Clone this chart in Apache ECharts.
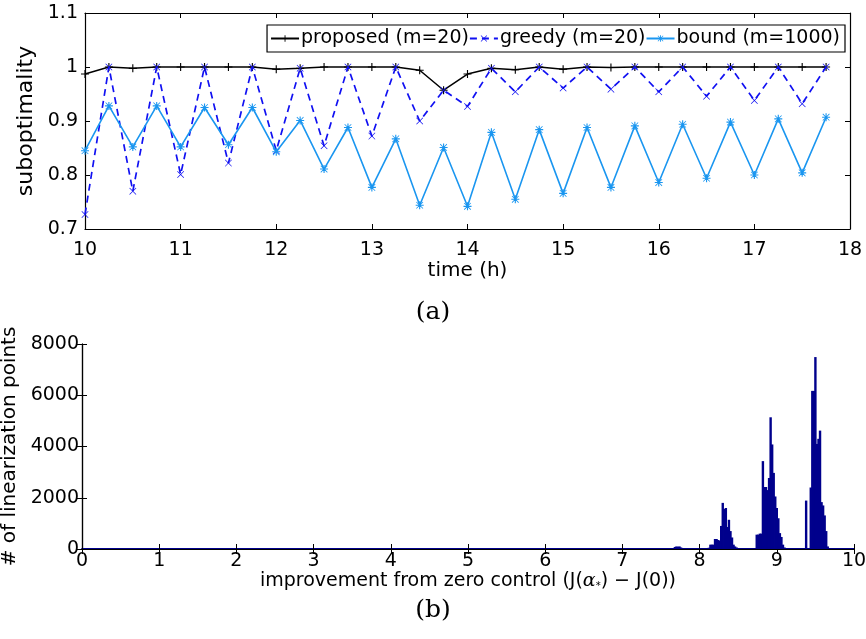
<!DOCTYPE html>
<html>
<head>
<meta charset="utf-8">
<script src="https://cdn.jsdelivr.net/npm/echarts@6/dist/echarts.min.js"></script>
<style>html,body{margin:0;padding:0;background:#fff}#c{width:866px;height:639px}</style>
</head>
<body>
<div id="c"></div>
<script>
// ---- data: panel (a) ----
const times = [10, 10.25, 10.5, 10.75, 11, 11.25, 11.5, 11.75, 12, 12.25, 12.5, 12.75, 13, 13.25, 13.5, 13.75,
               14, 14.25, 14.5, 14.75, 15, 15.25, 15.5, 15.75, 16, 16.25, 16.5, 16.75, 17, 17.25, 17.5, 17.75];
const proposed = [0.987, 1.0, 0.9975, 1.0, 1.0, 1.0, 1.0, 1.0, 0.996, 0.9975, 1.0, 1.0, 1.0, 1.0, 0.994, 0.957,
                  0.987, 0.9975, 0.995, 1.0, 0.996, 1.0, 0.999, 1.0, 1.0, 1.0, 1.0, 1.0, 1.0, 1.0, 1.0, 1.0];
const greedy = [0.727, 1.0, 0.770, 1.0, 0.801, 1.0, 0.822, 1.0, 0.845, 0.9975, 0.854, 1.0, 0.872, 1.0, 0.900, 0.957,
                0.927, 0.9975, 0.954, 1.0, 0.961, 1.0, 0.959, 1.0, 0.954, 1.0, 0.946, 1.0, 0.938, 1.0, 0.932, 1.0];
const bound = [0.845, 0.928, 0.852, 0.928, 0.852, 0.925, 0.856, 0.925, 0.843, 0.901, 0.811, 0.888, 0.777, 0.867, 0.744, 0.851,
               0.742, 0.879, 0.755, 0.884, 0.766, 0.888, 0.777, 0.891, 0.786, 0.894, 0.794, 0.898, 0.800, 0.904, 0.804, 0.907];
const seriesNames = ['proposed (m=20)', 'greedy (m=20)', 'bound (m=1000)'];
const yTicksA = ['0.7', '0.8', '0.9', '1', '1.1'];

// ---- data: panel (b) histogram ----
const binCenters = [7.66, 7.68, 7.70, 7.72, 7.74, 7.76, 7.78,
  7.84, 7.88, 7.92, 7.96, 8.00, 8.04, 8.08,
  8.12, 8.14, 8.16, 8.18, 8.20, 8.22, 8.24, 8.26, 8.28, 8.30, 8.32, 8.34, 8.36, 8.38, 8.40, 8.42, 8.44, 8.46, 8.48, 8.50,
  8.74, 8.76, 8.78, 8.80, 8.82, 8.84, 8.86, 8.88, 8.90, 8.92, 8.94, 8.96, 8.98, 9.00, 9.02, 9.04, 9.06, 9.08, 9.10,
  9.38, 9.44, 9.46, 9.48, 9.50, 9.52, 9.54, 9.56, 9.58, 9.60, 9.62, 9.64, 9.66];
const binCounts = [40, 80, 100, 90, 100, 60, 30,
  20, 25, 20, 30, 20, 30, 30,
  50, 170, 170, 170, 390, 390, 350, 330, 900, 1800, 1560, 1600, 860, 1140, 700, 450, 170, 100, 60, 20,
  560, 560, 600, 600, 3430, 2420, 2420, 2300, 2770, 5140, 4080, 2970, 2050, 1600, 1200, 620, 470, 170, 60,
  1890, 2400, 6170, 6170, 7490, 4100, 4300, 4620, 1830, 1700, 1310, 700, 100];
const yTicksB = ['0', '2000', '4000', '6000', '8000'];

// ---- styling ----
const FONT = 'DejaVu Sans';
const plusSym = 'path://M0,4.3L10,4.3L10,5.7L0,5.7Z M4.3,0L5.7,0L5.7,10L4.3,10Z';
const crossSym = 'path://M0.7,0L5,4.3L9.3,0L10,0.7L5.7,5L10,9.3L9.3,10L5,5.7L0.7,10L0,9.3L4.3,5L0,0.7Z';
const starSym = 'path://M0,4.3L10,4.3L10,5.7L0,5.7Z M4.3,0L5.7,0L5.7,10L4.3,10Z M1.2,0.5L5,4.3L8.8,0.5L9.5,1.2L5.7,5L9.5,8.8L8.8,9.5L5,5.7L1.2,9.5L0.5,8.8L4.3,5L0.5,1.2Z';
const colProp = '#000000', colGreedy = '#1010f2', colBound = '#1a96f0', colHist = '#00008c';

const axisTxt = {color: '#000', fontFamily: FONT, fontSize: 19};
const lineBlack = {lineStyle: {color: '#000', width: 1.2}};

function pairs(xs, ys) { return xs.map((x, i) => [x, ys[i]]); }

const chart = echarts.init(document.getElementById('c'), null, {renderer: 'canvas'});
const option = {
  animation: false,
  backgroundColor: '#fff',
  grid: [
    {left: 85, right: 16, top: 13, height: 216, outerBoundsMode: 'none', containLabel: false},
    {left: 82, right: 12, top: 344, height: 205, outerBoundsMode: 'none', containLabel: false}
  ],
  legend: {
    data: seriesNames,
    top: 25, right: 21,
    orient: 'horizontal',
    backgroundColor: '#fff',
    borderColor: '#000', borderWidth: 1.2, borderRadius: 0,
    padding: [4, 5, 4, 3],
    itemGap: 0, itemWidth: 28, itemHeight: 8,
    textStyle: {color: '#000', fontFamily: FONT, fontSize: 19, padding: [0, 0, 0, -3]}
  },
  xAxis: [
    {gridIndex: 0, type: 'value', min: 10, max: 18, interval: 1, position: 'bottom',
     axisLine: lineBlack, axisTick: {inside: true, length: 5, lineStyle: {color: '#000'}},
     axisLabel: Object.assign({margin: 12}, axisTxt), splitLine: {show: false},
     name: 'time (h)', nameLocation: 'middle', nameGap: 30, nameTextStyle: Object.assign({}, axisTxt, {fontSize: 20})},
    {gridIndex: 0, type: 'value', min: 10, max: 18, interval: 1, position: 'top',
     axisLine: lineBlack, axisTick: {inside: true, length: 5, lineStyle: {color: '#000'}},
     axisLabel: {show: false}, splitLine: {show: false}},
    {gridIndex: 1, type: 'value', min: 0, max: 10, interval: 1, position: 'bottom',
     axisLine: {lineStyle: {color: colHist, width: 2}}, axisTick: {inside: true, length: 5, lineStyle: {color: '#000'}},
     axisLabel: Object.assign({margin: 3}, axisTxt), splitLine: {show: false},
     name: 'improvement from zero control (J({g|α}{s|*}) − J(0))', nameLocation: 'middle', nameGap: 20,
     nameTextStyle: Object.assign({}, axisTxt, {fontSize: 19, verticalAlign: 'top',
       rich: {g: {fontFamily: 'DejaVu Serif', fontStyle: 'italic', fontSize: 19, color: '#000'},
              s: {fontFamily: FONT, fontSize: 10, color: '#000', verticalAlign: 'bottom', padding: [10, 0, 0, 0]}}})},
    {gridIndex: 1, type: 'value', min: 0, max: 10, interval: 1, position: 'top',
     axisLine: lineBlack, axisTick: {inside: true, length: 5, lineStyle: {color: '#000'}},
     axisLabel: {show: false}, splitLine: {show: false}}
  ],
  yAxis: [
    {gridIndex: 0, type: 'value', min: 0.7, max: 1.1, interval: 0.1, position: 'left',
     axisLine: lineBlack, axisTick: {inside: true, length: 5, lineStyle: {color: '#000'}},
     axisLabel: Object.assign({margin: 7, formatter: (v) => yTicksA[Math.round((v - 0.7) * 10)]}, axisTxt),
     splitLine: {show: false},
     name: 'suboptimality', nameLocation: 'middle', nameGap: 40, nameTextStyle: Object.assign({}, axisTxt, {fontSize: 22})},
    {gridIndex: 0, type: 'value', min: 0.7, max: 1.1, interval: 0.1, position: 'right',
     axisLine: lineBlack, axisTick: {inside: true, length: 5, lineStyle: {color: '#000'}},
     axisLabel: {show: false}, splitLine: {show: false}},
    {gridIndex: 1, type: 'value', min: 0, max: 8000, interval: 2000, position: 'left',
     axisLine: lineBlack, axisTick: {inside: true, length: 5, lineStyle: {color: '#000'}},
     axisLabel: Object.assign({margin: 3, formatter: (v) => yTicksB[Math.round(v / 2000)]}, axisTxt),
     splitLine: {show: false},
     name: '# of linearization points', nameLocation: 'middle', nameGap: 52, nameTextStyle: Object.assign({}, axisTxt, {fontSize: 20})},
    {gridIndex: 1, type: 'value', min: 0, max: 8000, interval: 2000, position: 'right',
     axisLine: lineBlack, axisTick: {inside: true, length: 5, lineStyle: {color: '#000'}},
     axisLabel: {show: false}, splitLine: {show: false}}
  ],
  series: [
    {name: seriesNames[0], type: 'line', xAxisIndex: 0, yAxisIndex: 0, data: pairs(times, proposed),
     color: colProp, lineStyle: {color: colProp, width: 1.5}, symbol: plusSym, symbolSize: 8,
     itemStyle: {color: colProp}, z: 3},
    {name: seriesNames[1], type: 'line', xAxisIndex: 0, yAxisIndex: 0, data: pairs(times, greedy),
     color: colGreedy, lineStyle: {color: colGreedy, width: 1.7, type: [7, 5]}, symbol: crossSym, symbolSize: 7,
     itemStyle: {color: colGreedy}, z: 4},
    {name: seriesNames[2], type: 'line', xAxisIndex: 0, yAxisIndex: 0, data: pairs(times, bound),
     color: colBound, lineStyle: {color: colBound, width: 1.6}, symbol: starSym, symbolSize: 8,
     itemStyle: {color: colBound}, z: 5},
    {name: 'hist', type: 'bar', xAxisIndex: 2, yAxisIndex: 2, data: pairs(binCenters, binCounts),
     barWidth: 2.4, itemStyle: {color: colHist}, z: 2}
  ],
  graphic: [
    {type: 'text', left: 'center', top: 300, style: {text: '(a)', fontFamily: 'DejaVu Serif', fontSize: 25, fill: '#000'}, x: 18},
    {type: 'text', left: 'center', top: 598, style: {text: '(b)', fontFamily: 'DejaVu Serif', fontSize: 25, fill: '#000'}, x: 18}
  ]
};
chart.setOption(option);
</script>
</body>
</html>
